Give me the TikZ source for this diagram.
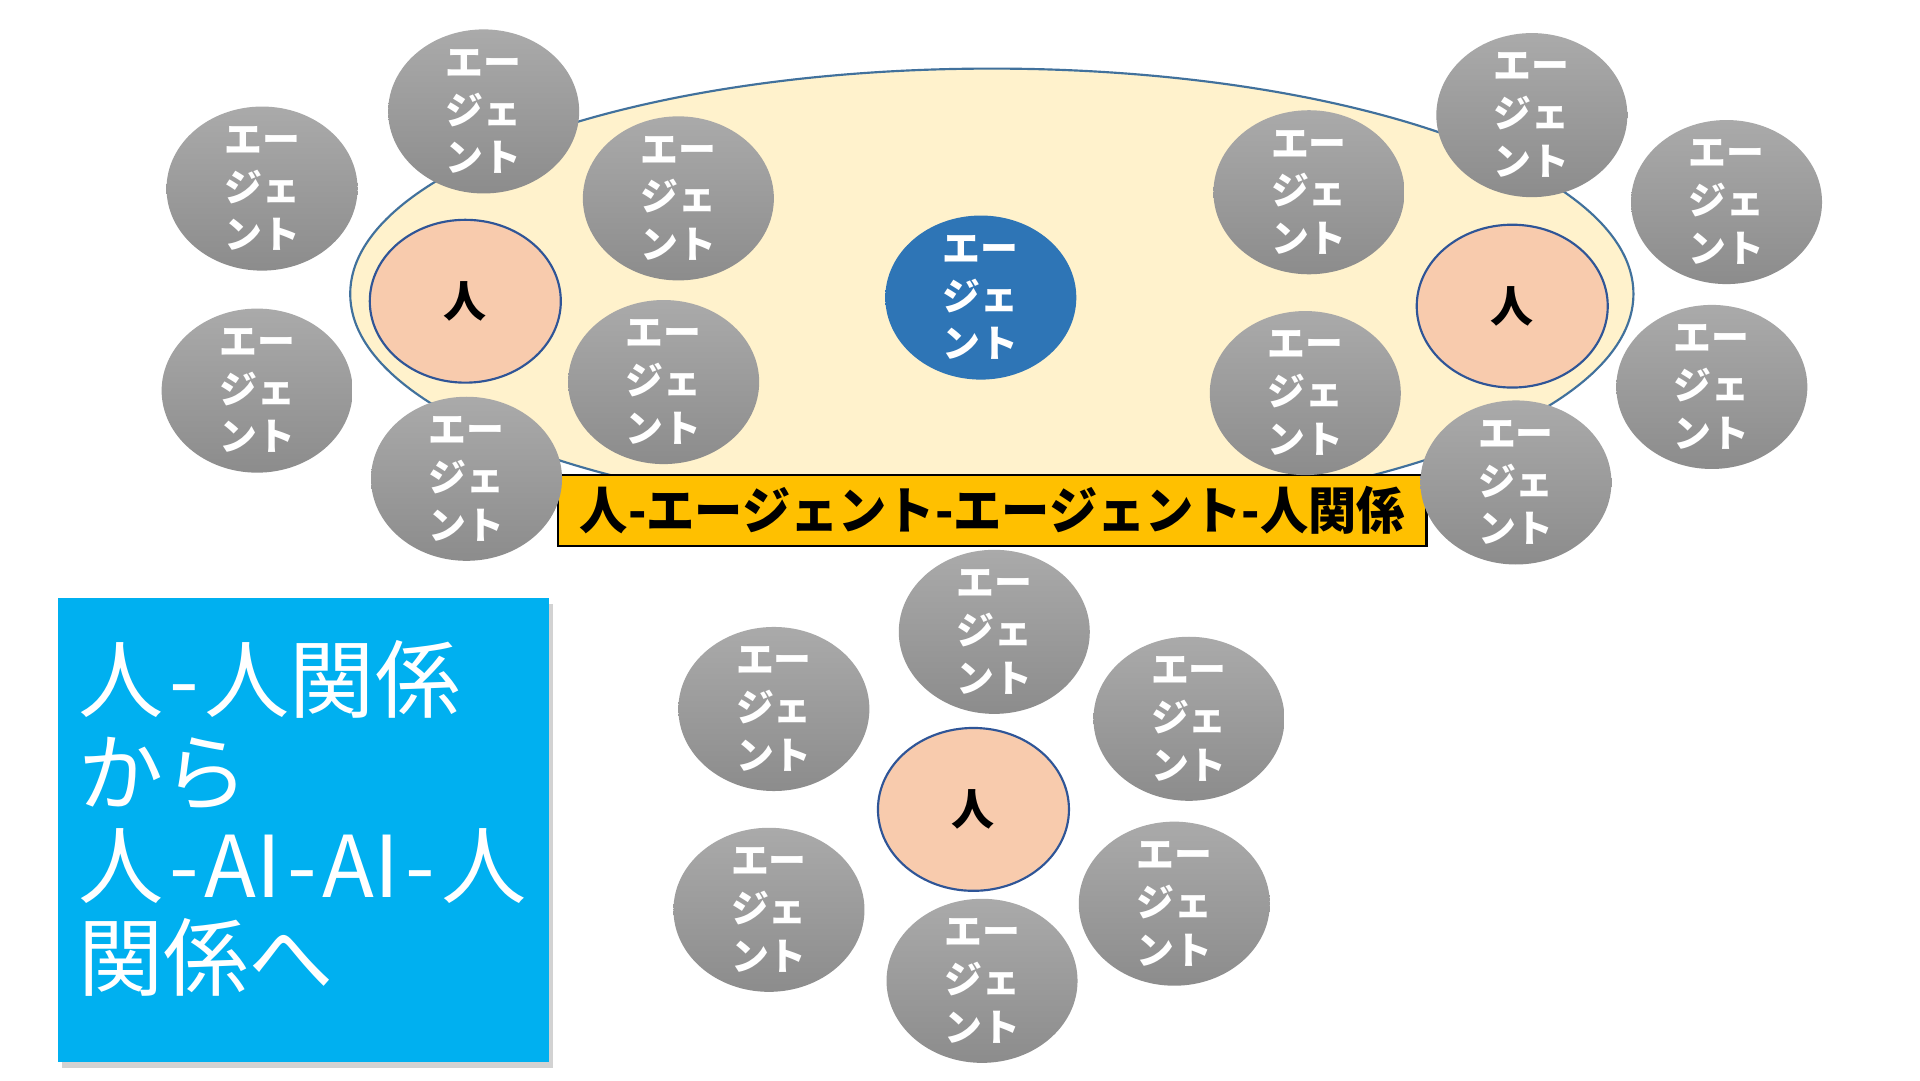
\documentclass[tikz,border=0pt]{standalone}
\usepackage{fontspec}
\newfontfamily\jp{Noto Sans CJK JP}
\usetikzlibrary{shapes.geometric,shadows}
\definecolor{agtop}{RGB}{170,170,170}
\definecolor{agbot}{RGB}{140,140,140}
\definecolor{persfill}{RGB}{248,203,173}
\definecolor{persline}{RGB}{47,85,151}
\definecolor{bigfill}{RGB}{255,242,204}
\definecolor{bigline}{RGB}{65,113,156}
\definecolor{agblue}{RGB}{46,117,182}
\definecolor{banner}{RGB}{255,192,0}
\definecolor{boxblue}{RGB}{0,176,240}
\tikzset{
  agent/.style={ellipse, minimum width=15.6mm, minimum height=13.4mm, inner sep=0pt,
    top color=agtop, bottom color=agbot, draw=none},
  agtext/.style={align=center, text=white, inner sep=0pt,
    font=\jp\bfseries\fontsize{8.8}{11.1}\selectfont},
  person/.style={ellipse, minimum width=15.6mm, minimum height=13.3mm, inner sep=0pt,
    fill=persfill, draw=persline, line width=0.5pt},
  perstext/.style={inner sep=0pt, font=\jp\bfseries\fontsize{10}{11}\selectfont},
  centeragent/.style={agent, top color=agblue, bottom color=agblue},
  bigellipse/.style={ellipse, minimum width=104.8mm, minimum height=36.8mm,
    fill=bigfill, draw=bigline, line width=0.5pt},
  bannerbox/.style={rectangle, fill=banner, draw=black, line width=0.5pt,
    minimum width=70.9mm, minimum height=5.8mm, inner sep=0pt,
    font=\jp\bfseries\fontsize{11.8}{13}\selectfont},
  titlebox/.style={rectangle, fill=boxblue, draw=none, minimum width=40.1mm,
    minimum height=37.9mm, inner sep=0pt,
    drop shadow={shadow xshift=0.4mm, shadow yshift=-0.5mm, opacity=0.35}}
}
\newcommand\agentat[2]{%
  \node[agent] (#1) at (#2) {};
  \node[agtext] (#1-t) at (#1) {エー\\ジェ\\ント};}
\newcommand\personat[2]{%
  \node[person] (#1) at (#2) {};
  \node[perstext] (#1-t) at (#1) {人};}
\newcommand\hy{\kern0.07em-\kern0.07em}
\begin{document}
\begin{tikzpicture}[x=0.1mm, y=-0.1mm]
\useasboundingbox (0,0) rectangle (1568,882);
\fill[white] (0,0) rectangle (1568,882);
% big ellipse
\node[bigellipse] (big) at (810,240) {};
% banner
\node[bannerbox] (ban) at (810.5,417) {\scalebox{0.95}[1]{人-エージェント-エージェント-人関係}};
% center agent
\node[centeragent] (ca) at (801,243) {};
\node[agtext] (ca-t) at (ca) {エー\\ジェ\\ント};
% left cluster
\personat{pl}{380,246}
\agentat{l1}{395,91}
\agentat{l2}{214,154}
\agentat{l3}{554,162}
\agentat{l4}{210,319}
\agentat{l5}{542,312}
\agentat{l6}{381,391}
% right cluster
\personat{pr}{1235,250}
\agentat{r1}{1251,94}
\agentat{r2}{1069,157}
\agentat{r3}{1410,165}
\agentat{r4}{1066,321}
\agentat{r5}{1398,316}
\agentat{r6}{1238,394}
% bottom cluster
\personat{pb}{795,661}
\agentat{b1}{812,516}
\agentat{b2}{632,579}
\agentat{b3}{971,587}
\agentat{b4}{628,743}
\agentat{b5}{959,738}
\agentat{b6}{802,801}
% title box
\node[titlebox] (tb) at (247.5,677.5) {};
\node[anchor=north west, align=left, text=white, inner sep=0pt,
  font=\jp\fontsize{19.8}{21.6}\selectfont] (tt) at (63,522)
  {人\hy 人関係\\から\\人\hy AI\hy AI\hy 人\\関係へ};
\end{tikzpicture}
\end{document}
